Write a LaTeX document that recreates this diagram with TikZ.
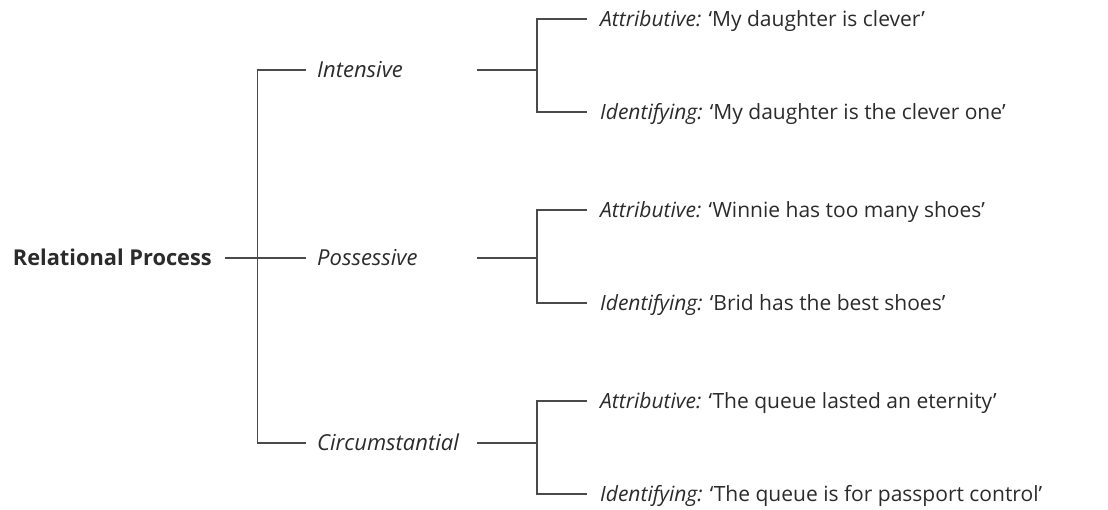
\documentclass[tikz,border=0pt]{standalone}
\usepackage{fontspec}
\setmainfont{Open Sans}
\definecolor{linec}{HTML}{4A4A4A}
\definecolor{textc}{HTML}{2B2B2B}
\begin{document}
\begin{tikzpicture}[x=1pt,y=-1pt,
  conn/.style={draw=linec, line width=1.9pt},
  txt/.style={inner ysep=0pt, text height=20pt, text depth=5pt, text=textc, font=\fontsize{21}{24}\selectfont},
  mid/.style={txt, anchor=west, inner xsep=11pt, font=\fontsize{22}{25}\selectfont},
  leaf/.style={txt, anchor=west, inner xsep=13pt}]
\useasboundingbox (0,0) rectangle (1108,509);
% root
\node[txt, anchor=east, inner xsep=13pt, font=\fontsize{21.8}{25}\selectfont\bfseries] (root) at (225,258) {Relational Process};
% middle level
\node[mid] (int) at (306,70) {\itshape Intensive};
\node[mid] (pos) at (306,258) {\itshape Possessive};
\node[mid] (cir) at (306,443) {\itshape Circumstantial};
\coordinate (top) at (257.5,70);
\coordinate (bot) at (257.5,443);
\draw[conn] (int.west) -- (top) -- (bot) -- (cir.west);
\draw[conn] (root.east) -- (pos.west);
% leaves
\node[leaf] (ia) at (587,19) {\textit{Attributive:} ‘My daughter is clever’};
\node[leaf] (ii) at (587,112) {\textit{Identifying:} ‘My daughter is the clever one’};
\node[leaf] (pa) at (587,210) {\textit{Attributive:} ‘Winnie has too many shoes’};
\node[leaf] (pi) at (587,303) {\textit{Identifying:} ‘Brid has the best shoes’};
\node[leaf] (ca) at (587,401) {\textit{Attributive:} ‘The queue lasted an eternity’};
\node[leaf] (ci) at (587,494) {\textit{Identifying:} ‘The queue is for passport control’};
% second level junctions
\coordinate (ri) at (477,70);  \coordinate (vi) at (537,70);
\coordinate (rp) at (477,258); \coordinate (vp) at (537,258);
\coordinate (rc) at (477,443); \coordinate (vc) at (537,443);
\draw[conn] (ri) -- (vi);
\draw[conn] (rp) -- (vp);
\draw[conn] (rc) -- (vc);
\draw[conn] (ia.west) -| (vi) |- (ii.west);
\draw[conn] (pa.west) -| (vp) |- (pi.west);
\draw[conn] (ca.west) -| (vc) |- (ci.west);
\end{tikzpicture}
\end{document}
